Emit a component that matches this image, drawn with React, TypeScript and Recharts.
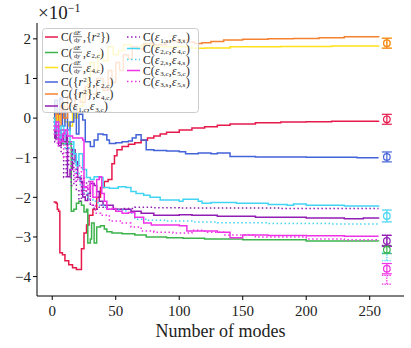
import React from "react";
import { ComposedChart, Line, XAxis, YAxis, Scatter, ErrorBar } from "recharts";

type P = [number, number];

const xTicks = [0, 50, 100, 150, 200, 250];
const yTicks = [-4, -3, -2, -1, 0, 1, 2];

const redPts: P[] = [[1,-2.12],[3,-2.15],[4,-2.3],[5,-2.35],[6,-3.4],[8,-3.45],[10,-3.6],[13,-3.7],[16,-3.78],[19,-3.82],[23,-3.3],[25,-2.9],[27,-2.7],[29,-2.45],[32,-2.3],[35,-2.0],[38,-1.75],[41,-1.6],[44,-1.55],[47,-1.15],[49,-0.95],[51,-0.8],[55,-0.72],[60,-0.66],[65,-0.62],[70,-0.56],[75,-0.5],[80,-0.45],[85,-0.4],[90,-0.36],[100,-0.3],[110,-0.25],[120,-0.22],[130,-0.18],[140,-0.15],[160,-0.12],[180,-0.1],[200,-0.09],[220,-0.08],[240,-0.08],[257,-0.07]];
const greenPts: P[] = [[1,-0.3],[3,-0.5],[5,-0.6],[8,-0.65],[11,-0.6],[14,-0.65],[15,-2.35],[17,-2.3],[19,-2.15],[21,-2.1],[23,-2.2],[25,-2.37],[27,-2.3],[28,-3.15],[30,-3.05],[31,-2.65],[33,-3.15],[35,-2.75],[38,-2.72],[41,-2.8],[43,-2.87],[47,-2.9],[55,-2.92],[65,-2.95],[74,-3.0],[90,-3.02],[103,-3.03],[120,-3.05],[150,-3.07],[200,-3.1],[257,-3.11]];
const yellowPts: P[] = [[1,0.1],[2,0.35],[4,-0.1],[6,0.2],[8,0.4],[10,-0.1],[13,-0.2],[16,0.2],[18,0.0],[20,0.3],[24,0.6],[28,1.0],[30,1.4],[33,1.2],[36,1.6],[40,1.45],[44,1.8],[48,1.6],[52,1.7],[56,1.85],[62,1.8],[70,1.85],[80,1.8],[100,1.8],[110,1.76],[120,1.77],[140,1.8],[180,1.81],[220,1.82],[257,1.83]];
const bluePts: P[] = [[1,0.0],[2,0.45],[4,0.1],[6,0.5],[8,-0.2],[10,0.2],[12,-0.3],[14,-0.1],[17,0.3],[19,-0.4],[21,0.1],[24,-0.05],[26,-0.6],[30,-0.72],[33,-0.55],[36,-0.4],[40,-0.42],[43,-0.55],[45,-0.64],[50,-0.62],[55,-0.6],[60,-0.58],[63,-0.5],[66,-0.42],[70,-0.55],[74,-0.8],[80,-0.82],[90,-0.83],[100,-0.85],[105,-0.9],[115,-0.88],[125,-0.9],[130,-0.88],[140,-0.97],[160,-0.98],[200,-0.99],[240,-1.0],[257,-1.0]];
const orangePts: P[] = [[1,0.0],[2,-0.4],[3,0.1],[5,-0.2],[7,0.3],[9,0.0],[12,0.5],[15,0.3],[18,0.6],[22,0.4],[26,0.8],[30,0.6],[35,1.0],[40,0.7],[44,1.2],[47,0.9],[50,1.4],[53,1.2],[56,1.6],[60,1.5],[63,1.8],[67,1.75],[72,1.88],[80,1.85],[90,1.93],[100,1.97],[107,1.92],[112,1.88],[118,1.9],[125,1.93],[135,1.97],[150,1.99],[170,2.0],[190,2.01],[210,2.03],[230,2.05],[257,2.07]];
const purplePts: P[] = [[1,-0.1],[2,-0.5],[3,-0.2],[5,-0.7],[7,-0.3],[9,-0.6],[11,-0.4],[12,-1.48],[14,-1.3],[16,-0.8],[18,-1.1],[20,-1.5],[22,-1.6],[24,-1.99],[26,-2.08],[28,-1.9],[30,-1.65],[33,-1.7],[35,-1.85],[37,-2.1],[40,-2.2],[44,-2.2],[48,-2.3],[55,-2.3],[62,-2.35],[70,-2.4],[80,-2.45],[90,-2.45],[100,-2.44],[110,-2.45],[130,-2.48],[160,-2.5],[200,-2.52],[230,-2.54],[245,-2.52],[257,-2.51]];
const purpleDotPts: P[] = [[1,-0.2],[2,-0.6],[3,-0.3],[5,-0.5],[7,-0.9],[9,-1.5],[11,-0.6],[13,-1.2],[15,-1.7],[17,-1.0],[19,-1.8],[21,-2.1],[23,-1.5],[25,-2.0],[27,-1.6],[30,-2.2],[33,-2.3],[37,-2.2],[40,-2.25],[45,-2.3],[55,-2.28],[65,-2.25],[80,-2.26],[100,-2.27],[130,-2.27],[180,-2.28],[257,-2.28]];
const cyanPts: P[] = [[1,0.0],[2,-0.3],[3,-0.1],[5,-0.5],[7,-0.2],[9,-0.4],[11,-0.3],[14,-0.6],[17,-0.9],[19,-1.2],[21,-0.9],[24,-1.3],[27,-1.5],[30,-1.55],[33,-1.48],[37,-1.5],[40,-1.75],[45,-1.77],[52,-1.73],[58,-1.75],[62,-1.85],[66,-1.9],[72,-1.95],[77,-2.0],[85,-2.07],[100,-2.1],[103,-2.05],[110,-2.05],[115,-2.1],[118,-2.15],[125,-2.13],[145,-2.15],[170,-2.18],[185,-2.2],[190,-2.17],[200,-2.2],[230,-2.22],[257,-2.24]];
const cyanDotPts: P[] = [[1,-0.1],[2,-0.4],[4,-0.2],[6,-0.6],[8,-0.4],[10,-0.8],[13,-0.6],[16,-1.1],[19,-1.4],[22,-1.7],[25,-1.9],[28,-2.05],[32,-2.1],[36,-2.2],[42,-2.3],[50,-2.32],[58,-2.4],[65,-2.55],[75,-2.58],[90,-2.6],[110,-2.62],[130,-2.64],[170,-2.66],[220,-2.67],[257,-2.68]];
const magentaPts: P[] = [[1,-0.3],[3,-0.1],[5,-0.6],[8,-0.4],[10,-0.3],[12,-0.45],[16,-0.5],[20,-0.5],[24,-0.55],[25,-1.75],[28,-1.8],[30,-1.6],[32,-2.0],[35,-1.55],[37,-1.48],[39,-1.9],[41,-2.1],[43,-2.3],[47,-2.28],[50,-2.35],[55,-2.4],[60,-2.38],[65,-2.5],[72,-2.65],[78,-2.7],[90,-2.7],[100,-2.72],[106,-2.85],[130,-2.88],[140,-3.02],[150,-2.95],[170,-2.96],[200,-2.97],[230,-2.98],[257,-2.98]];
const magentaDotPts: P[] = [[1,-0.4],[2,-0.2],[4,-0.7],[6,-0.3],[9,-1.0],[12,-0.6],[15,-1.3],[18,-1.6],[20,-1.2],[23,-1.9],[26,-1.7],[30,-2.2],[34,-2.4],[38,-2.45],[45,-2.6],[55,-2.65],[62,-2.75],[70,-2.85],[80,-2.88],[95,-2.9],[110,-2.83],[120,-2.88],[135,-2.95],[160,-3.0],[200,-3.05],[230,-3.07],[257,-3.09]];

// error-bar estimates at x = 263.5: [value, error]
const errX = 263.5;
const yellowErr: P = [1.89, 0.125];
const orangeErr: P = [1.89, 0.125];
const redErr: P = [-0.03, 0.125];
const blueErr: P = [-0.98, 0.125];
const cyanErr: P = [-2.47, 0.15];
const purpleDotErr: P = [-3.08, 0.13];
const purpleErr: P = [-3.1, 0.14];
const greenErr: P = [-3.32, 0.1];
const cyanDotErr: P = [-3.5, 0.1];
const magentaErr: P = [-3.8, 0.13];
const magentaDotErr: P = [-4.08, 0.11];

const C = {
  red: "#e6194b",
  green: "#3cb44b",
  yellow: "#ffe119",
  blue: "#4363d8",
  orange: "#f58231",
  purple: "#911eb4",
  cyan: "#42d4f4",
  magenta: "#f032e6",
};

const DOT = "1.5 2.5";

const series = [
  { pts: redPts, color: C.red, dotted: false, err: redErr },
  { pts: greenPts, color: C.green, dotted: false, err: greenErr },
  { pts: yellowPts, color: C.yellow, dotted: false, err: yellowErr },
  { pts: bluePts, color: C.blue, dotted: false, err: blueErr },
  { pts: orangePts, color: C.orange, dotted: false, err: orangeErr },
  { pts: purplePts, color: C.purple, dotted: false, err: purpleErr },
  { pts: purpleDotPts, color: C.purple, dotted: true, err: purpleDotErr },
  { pts: cyanPts, color: C.cyan, dotted: false, err: cyanErr },
  { pts: cyanDotPts, color: C.cyan, dotted: true, err: cyanDotErr },
  { pts: magentaPts, color: C.magenta, dotted: false, err: magentaErr },
  { pts: magentaDotPts, color: C.magenta, dotted: true, err: magentaDotErr },
];

const FONT = "'Liberation Serif', 'DejaVu Serif', serif";

type Kind = { kind: "frac" | "r2" | "eps"; a?: string };
type LegendItem = { color: string; dotted: boolean; y: number; first: Kind; second: Kind };

const legendLeft: LegendItem[] = [
  { color: C.red, dotted: false, y: 37, first: { kind: "frac" }, second: { kind: "r2" } },
  { color: C.green, dotted: false, y: 52.5, first: { kind: "frac" }, second: { kind: "eps", a: "2,c" } },
  { color: C.yellow, dotted: false, y: 67.5, first: { kind: "frac" }, second: { kind: "eps", a: "4,c" } },
  { color: C.blue, dotted: false, y: 82, first: { kind: "r2" }, second: { kind: "eps", a: "2,c" } },
  { color: C.orange, dotted: false, y: 94, first: { kind: "r2" }, second: { kind: "eps", a: "4,c" } },
  { color: C.purple, dotted: false, y: 106, first: { kind: "eps", a: "1,c" }, second: { kind: "eps", a: "3,c" } },
];
const legendRight: LegendItem[] = [
  { color: C.purple, dotted: true, y: 37, first: { kind: "eps", a: "1,s" }, second: { kind: "eps", a: "3,s" } },
  { color: C.cyan, dotted: false, y: 48.5, first: { kind: "eps", a: "2,c" }, second: { kind: "eps", a: "4,c" } },
  { color: C.cyan, dotted: true, y: 59.5, first: { kind: "eps", a: "2,s" }, second: { kind: "eps", a: "4,s" } },
  { color: C.magenta, dotted: false, y: 70.5, first: { kind: "eps", a: "3,c" }, second: { kind: "eps", a: "5,c" } },
  { color: C.magenta, dotted: true, y: 81.5, first: { kind: "eps", a: "3,s" }, second: { kind: "eps", a: "5,s" } },
];

const FS = 11.5;
const SFS = 7;

function part(k: Kind, x: number, base: number, key: string): [React.ReactNode[], number, React.ReactNode[]] {
  const nodes: React.ReactNode[] = [];
  const extra: React.ReactNode[] = [];
  if (k.kind === "frac") {
    nodes.push(
      <tspan key={key + "n"} x={x + 0.5} y={base - 6.3} fontSize={6.5}>d<tspan fontStyle="italic">E</tspan></tspan>,
      <tspan key={key + "d"} x={x + 1} y={base + 1.3} fontSize={6.5}>d<tspan fontStyle="italic">y</tspan></tspan>,
    );
    extra.push(<line key={key + "l"} x1={x} x2={x + 9} y1={base - 4.3} y2={base - 4.3} stroke="#222" strokeWidth={0.6} />);
    return [nodes, 10, extra];
  }
  if (k.kind === "r2") {
    nodes.push(
      <tspan key={key + "a"} x={x} y={base} fontSize={FS}>{"{"}<tspan fontStyle="italic">r</tspan></tspan>,
      <tspan key={key + "s"} x={x + 10.2} y={base - 4.5} fontSize={SFS}>2</tspan>,
      <tspan key={key + "b"} x={x + 14} y={base} fontSize={FS}>{"}"}</tspan>,
    );
    return [nodes, 19.5, extra];
  }
  nodes.push(
    <tspan key={key + "e"} x={x} y={base} fontSize={FS} fontStyle="italic">ε</tspan>,
    <tspan key={key + "s"} x={x + 5.2} y={base + 1.5} fontSize={SFS}>{k.a}</tspan>,
  );
  return [nodes, 5.2 + 8.6, extra];
}

function LegendRow({ item, lineX, textX }: { item: LegendItem; lineX: number; textX: number }) {
  const base = item.y + 4;
  let x = textX;
  const tsp: React.ReactNode[] = [];
  const extras: React.ReactNode[] = [];
  tsp.push(<tspan key="c" x={x} y={base} fontSize={FS}>C(</tspan>);
  x += 12;
  const [n1, w1, e1] = part(item.first, x, base, "p1");
  tsp.push(...n1); extras.push(...e1);
  x += w1;
  tsp.push(<tspan key="cm" x={x} y={base} fontSize={FS}>,</tspan>);
  x += 3.3;
  const [n2, w2, e2] = part(item.second, x, base, "p2");
  tsp.push(...n2); extras.push(...e2);
  x += w2;
  tsp.push(<tspan key="cl" x={x} y={base} fontSize={FS}>)</tspan>);
  return (
    <g>
      <line x1={lineX} x2={lineX + 13} y1={item.y} y2={item.y} stroke={item.color} strokeWidth={1.5} strokeDasharray={item.dotted ? DOT : undefined} />
      <text fill="#222" fontFamily={FONT}>{tsp}</text>
      {extras}
    </g>
  );
}

const fmt = (v: number) => (v < 0 ? "\u2212" + Math.abs(v) : String(v));

const makeShape = (color: string, dotted: boolean) => (props: any) => {
  if (dotted) return <g />;
  return <circle cx={props.cx} cy={props.cy} r={3.3} fill="none" stroke={color} strokeWidth={1.2} />;
};

export default function App() {
  return (
    <div style={{ position: "absolute", left: 0, top: 0, width: 411, height: 348, background: "#fff", fontFamily: FONT }}>
      <ComposedChart width={411} height={348} margin={{ top: 23, right: 7, bottom: 0, left: 0 }}>
        <XAxis
          xAxisId={0}
          type="number"
          dataKey="x"
          domain={[-12, 277]}
          allowDataOverflow
          ticks={xTicks}
          tickSize={4}
          tickMargin={5}
          height={52}
          axisLine={{ stroke: "#000" }}
          tickLine={{ stroke: "#000" }}
          tick={{ fill: "#222", fontSize: 15, fontFamily: FONT }}
          label={{ value: "Number of modes", position: "insideBottom", offset: 11, fill: "#222", fontSize: 18, fontFamily: FONT }}
        />
        <XAxis xAxisId="top" orientation="top" type="number" domain={[-12, 277]} allowDataOverflow height={0} tick={false} tickLine={false} axisLine={{ stroke: "#000" }} />
        <YAxis
          yAxisId={0}
          type="number"
          dataKey="y"
          domain={[-4.49, 2.4]}
          allowDataOverflow
          ticks={yTicks}
          tickFormatter={fmt}
          tickSize={4}
          tickMargin={2}
          width={37}
          axisLine={{ stroke: "#000" }}
          tickLine={{ stroke: "#000" }}
          tick={{ fill: "#222", fontSize: 15, fontFamily: FONT }}
        />
        <YAxis yAxisId="right" orientation="right" type="number" domain={[-4.49, 2.4]} allowDataOverflow width={0} tick={false} tickLine={false} axisLine={{ stroke: "#000" }} />
        {series.map((s, i) => (
          <Line
            key={"l" + i}
            data={s.pts.map(([x, y]) => ({ x, y }))}
            dataKey="y"
            type="stepAfter"
            stroke={s.color}
            strokeWidth={1.5}
            strokeDasharray={s.dotted ? DOT : undefined}
            dot={false}
            activeDot={false}
            isAnimationActive={false}
          />
        ))}
        {series.map((s, i) => (
          <Scatter
            key={"e" + i}
            data={[{ x: errX, y: s.err[0], e: s.err[1] }]}
            dataKey="y"
            shape={makeShape(s.color, s.dotted)}
            isAnimationActive={false}
          >
            <ErrorBar dataKey="e" direction="y" width={5} stroke={s.color} strokeWidth={1.2} strokeDasharray={s.dotted ? "1.5 1" : undefined} isAnimationActive={false} />
          </Scatter>
        ))}
      </ComposedChart>
      <svg width={411} height={348} style={{ position: "absolute", left: 0, top: 0, pointerEvents: "none" }}>
        <text x={38} y={18.5} fill="#222" fontFamily={FONT} fontSize={19}>
          ×10<tspan dy={-6.5} fontSize={12}>−1</tspan>
        </text>
        <rect x={42.5} y={28.5} width={156} height={84} rx={3} fill="#fff" fillOpacity={0.8} stroke="#cccccc" strokeWidth={1} />
        {legendLeft.map((it, i) => (<LegendRow key={"ll" + i} item={it} lineX={45} textX={61} />))}
        {legendRight.map((it, i) => (<LegendRow key={"lr" + i} item={it} lineX={127} textX={143} />))}
      </svg>
    </div>
  );
}
